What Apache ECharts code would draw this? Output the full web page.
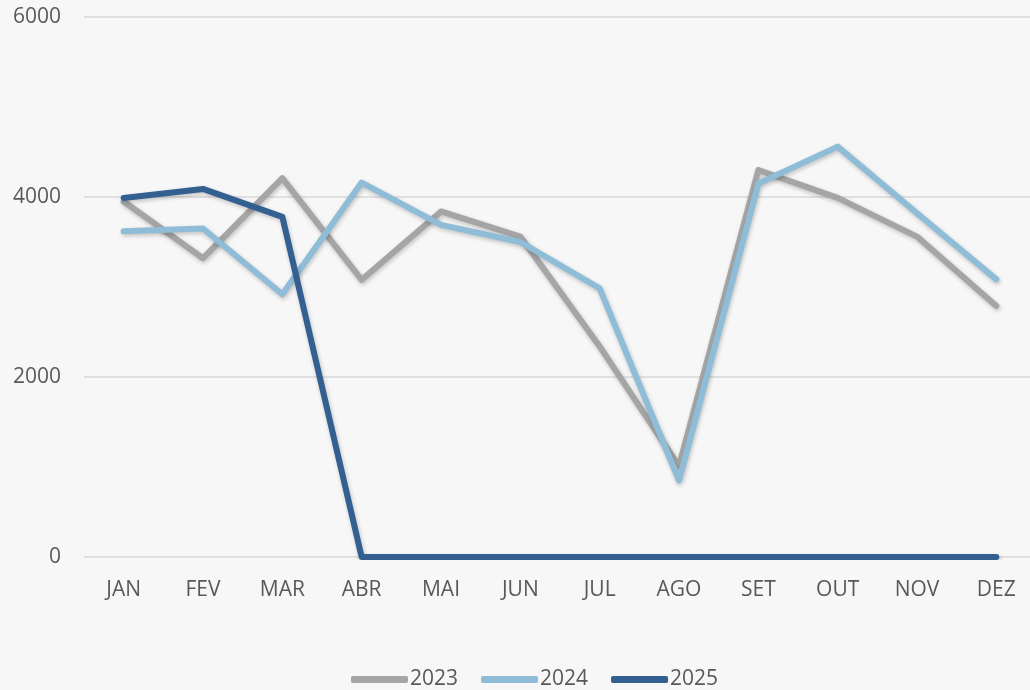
<!DOCTYPE html>
<html><head><meta charset="utf-8">
<script src="https://cdn.jsdelivr.net/npm/echarts@6/dist/echarts.min.js"></script>
<style>html,body{margin:0;padding:0;background:#f7f7f7;overflow:hidden}#c{width:1040px;height:690px}</style>
</head><body><div id="c"></div>
<script>
const categories = ['JAN','FEV','MAR','ABR','MAI','JUN','JUL','AGO','SET','OUT','NOV','DEZ'];
const s2023 = [3950, 3320, 4210, 3080, 3840, 3560, 2340, 1010, 4300, 3990, 3560, 2790];
const s2024 = [3620, 3650, 2920, 4160, 3690, 3500, 2985, 850, 4150, 4560, 3820, 3085];
const s2025 = [3990, 4090, 3780, 0, 0, 0, 0, 0, 0, 0, 0, 0];
const yTicks = [0, 2000, 4000, 6000];

const chart = echarts.init(document.getElementById('c'));
const font = "'Open Sans', 'Noto Sans', sans-serif";
function line(name, data, color) {
  return {
    name, type: 'line', data, symbol: 'none', smooth: false,
    lineStyle: { color, width: 6, cap: 'round', join: 'round',
      shadowColor: 'rgba(0,0,0,0.22)', shadowBlur: 4, shadowOffsetX: 1, shadowOffsetY: 2 },
    itemStyle: { color }
  };
}
chart.setOption({
  backgroundColor: '#f7f7f7',
  animation: false,
  grid: { left: 84, right: 4, top: 17, bottom: 133, containLabel: false },
  xAxis: {
    type: 'category', data: categories, boundaryGap: true,
    axisLine: { show: false }, axisTick: { show: false },
    axisLabel: { color: '#595959', fontSize: 21, fontFamily: font, margin: 23 }
  },
  yAxis: {
    type: 'value', min: yTicks[0], max: yTicks[yTicks.length - 1], interval: 2000,
    axisLine: { show: false }, axisTick: { show: false },
    axisLabel: { color: '#595959', fontSize: 21, fontFamily: font, margin: 23,
      formatter: v => String(v) },
    splitLine: { lineStyle: { color: '#d9d9d9', width: 1.5 } }
  },
  legend: {
    top: 664, left: 346, itemGap: 23, itemWidth: 57, itemHeight: 7,
    icon: 'roundRect',
    textStyle: { color: '#595959', fontSize: 21, fontFamily: font, padding: [0, 0, 0, -3] },
    data: ['2023', '2024', '2025']
  },
  series: [
    line('2023', s2023, '#a5a5a5'),
    line('2024', s2024, '#8fbdd7'),
    line('2025', s2025, '#335f91')
  ]
});
</script></body></html>
